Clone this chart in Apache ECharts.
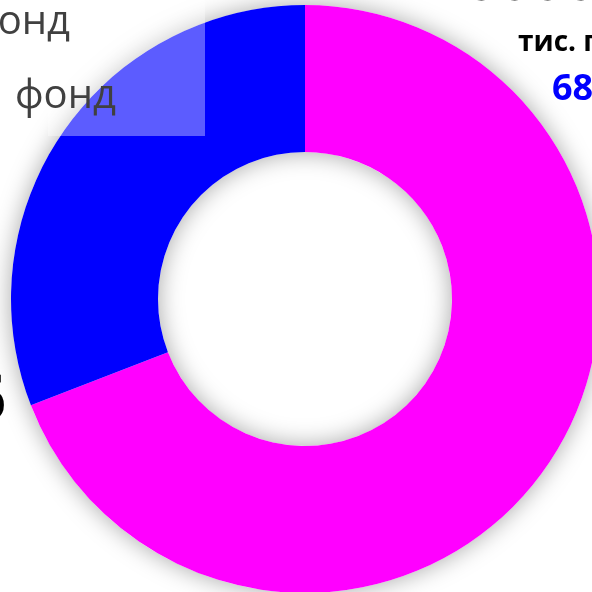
<!DOCTYPE html>
<html>
<head>
<meta charset="utf-8">
<script src="https://cdn.jsdelivr.net/npm/echarts@6/dist/echarts.min.js"></script>
<style>html,body{margin:0;padding:0;background:#fff}#c{width:592px;height:592px}</style>
</head>
<body>
<div id="c"></div>
<script>
var categories = ['фонд A', 'фонд B'];
var values = [1537, 687];
var colors = ['#ff00ff', '#0000ff'];
var unitText = 'тис. грн';
var blueValueText = '687';

var chart = echarts.init(document.getElementById('c'));
chart.setOption({
  backgroundColor: '#ffffff',
  animation: false,
  series: [
    {
      type: 'pie', silent: true, z: 1,
      center: [305, 299], radius: [147, 294],
      startAngle: 90, clockwise: true,
      label: {show: false}, labelLine: {show: false},
      itemStyle: {color: '#ffffff', shadowBlur: 24, shadowColor: 'rgba(0,0,0,0.35)'},
      data: [{value: 1, name: 'shadow'}]
    },
    {
      type: 'pie', z: 2,
      center: [305, 299], radius: [147, 294],
      startAngle: 90, clockwise: true,
      label: {show: false}, labelLine: {show: false},
      itemStyle: {borderWidth: 0},
      data: categories.map(function (c, i) {
        return {name: c, value: values[i], itemStyle: {color: colors[i]}};
      })
    }
  ],
  graphic: [
    {type: 'rect', z: 100, shape: {x: 48, y: -10, width: 157, height: 146},
      style: {fill: 'rgba(255,255,255,0.36)'}},
    {type: 'text', z: 101, x: 70, y: 3, style: {text: 'фонд', font: '40px "Open Sans"', fill: '#404040', textAlign: 'right'}},
    {type: 'text', z: 101, x: 15, y: 77, style: {text: 'фонд', font: '40px "Open Sans"', fill: '#404040', textAlign: 'left'}},
    {type: 'text', z: 101, x: 518, y: 29, style: {text: unitText, font: 'bold 28px "Open Sans"', fill: '#000000', textAlign: 'left'}},
    {type: 'text', z: 101, x: 552, y: 72, style: {text: blueValueText, font: 'bold 36px "Open Sans"', fill: '#0000ff', textAlign: 'left'}},
    {type: 'text', z: 101, x: 465, y: -46, style: {text: '0000', font: 'bold 58px "Open Sans"', fill: '#000000', textAlign: 'left'}},
    {type: 'text', z: 101, x: 6, y: 371, style: {text: '6', font: 'bold 62px "Open Sans"', fill: '#000000', textAlign: 'right'}}
  ]
});
</script>
</body>
</html>
